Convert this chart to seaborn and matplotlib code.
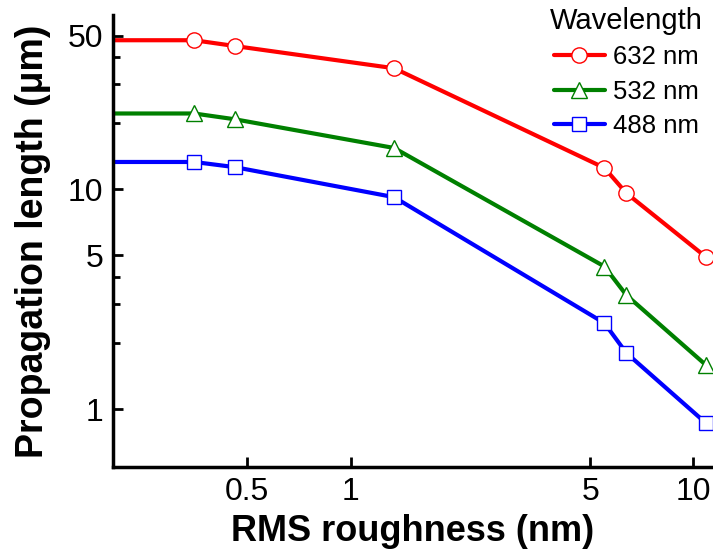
import matplotlib
matplotlib.use("Agg")
import matplotlib.pyplot as plt
import seaborn as sns
import pandas as pd
from matplotlib.ticker import FixedLocator, NullFormatter, FixedFormatter

sns.set_theme(style="white")
plt.rcParams['font.family'] = ['Liberation Sans', 'DejaVu Sans']
plt.rcParams.update({"text.color": "black", "axes.labelcolor": "black",
                     "xtick.color": "black", "ytick.color": "black"})

roughness = [0.15, 0.35, 0.46, 1.34, 5.5, 6.37, 10.9]
len_632 = [47.6, 47.6, 44.8, 35.5, 12.5, 9.6, 4.9]
len_532 = [22.1, 22.1, 20.8, 15.4, 4.45, 3.3, 1.58]
len_488 = [13.3, 13.3, 12.6, 9.2, 2.46, 1.8, 0.86]
labels = ["632 nm", "532 nm", "488 nm"]
colors = ["#ff0000", "#008000", "#0000ff"]
markers = ["o", "^", "s"]

y_major = [1, 5, 10, 50]
y_minor = [2, 3, 4, 20, 30, 40]
x_major = [0.5, 1, 5, 10]
x_labels = ["0.5", "1", "5", "10"]

fig = plt.figure(figsize=(7.13, 5.57), dpi=100)
ax = fig.add_axes([113/713, 1-467/557, 1-113/713, (467-15)/557])

for vals, lab, col, mk in zip([len_632, len_532, len_488], labels, colors, markers):
    df = pd.DataFrame({"x": roughness, "y": vals})
    sns.lineplot(data=df, x="x", y="y", ax=ax, color=col, lw=3, marker=mk,
                 markersize=11 if mk != "s" else 10, markerfacecolor="white",
                 markeredgecolor=col, markeredgewidth=1.0, label=lab)

ax.set_xscale("log")
ax.set_yscale("log")
ax.set_xlim(0.203, 11.4)
ax.set_ylim(0.545, 62)

ax.xaxis.set_major_locator(FixedLocator(x_major))
ax.xaxis.set_major_formatter(FixedFormatter(x_labels))
ax.xaxis.set_minor_locator(FixedLocator([]))
ax.yaxis.set_major_locator(FixedLocator(y_major))
ax.yaxis.set_major_formatter(FixedFormatter([str(v) for v in y_major]))
ax.yaxis.set_minor_locator(FixedLocator(y_minor))
ax.yaxis.set_minor_formatter(NullFormatter())

for side in ["top", "right"]:
    ax.spines[side].set_visible(False)
for side in ["left", "bottom"]:
    ax.spines[side].set_linewidth(2.5)
    ax.spines[side].set_color("black")

ax.tick_params(which="major", direction="in", length=7, width=2, labelsize=23, pad=7, colors="black")
ax.tick_params(which="minor", direction="in", length=5, width=2)
ax.tick_params(axis="x", which="both", bottom=True)
ax.tick_params(axis="y", which="both", left=True)

ax.set_xlabel("RMS roughness (nm)", fontsize=26, fontweight="bold", labelpad=5)
ax.set_ylabel("Propagation length (μm)", fontsize=27, fontweight="bold", labelpad=12)

leg = ax.legend(title="Wavelength", loc="upper right", frameon=False, fontsize=18.5,
                title_fontsize=21, handlelength=2.0, handletextpad=0.3,
                labelspacing=0.4, borderaxespad=0.0, bbox_to_anchor=(1.0, 1.04))
ax.grid(False)

fig.savefig("out.png", dpi=100)
